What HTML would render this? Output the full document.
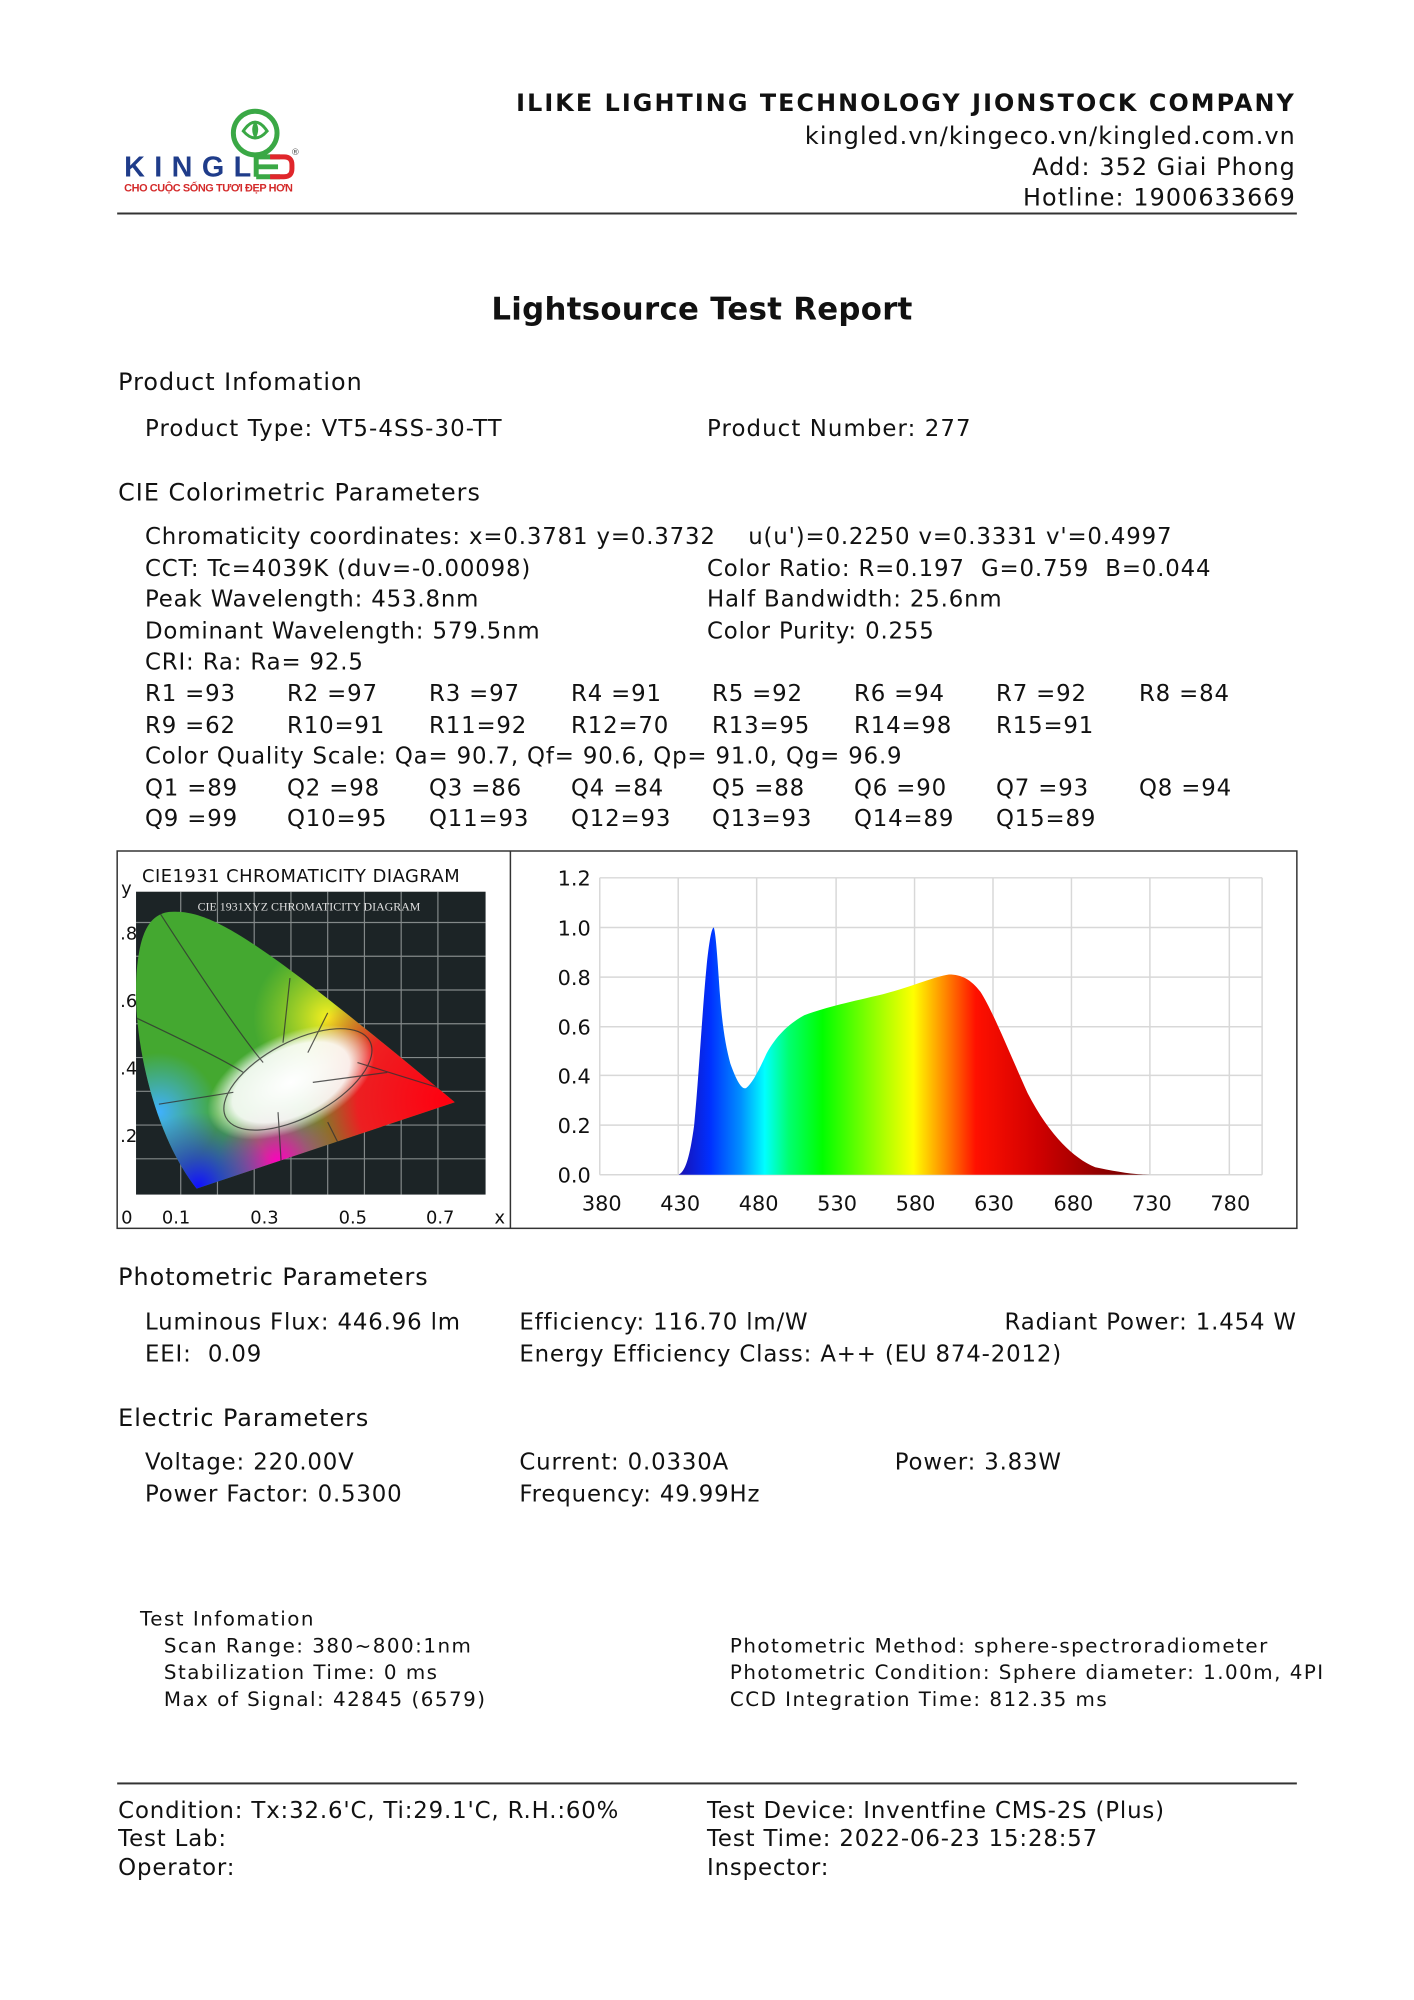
<!DOCTYPE html>
<html><head><meta charset="utf-8"><style>
html,body{margin:0;padding:0;background:#fff}
body{width:1414px;height:2000px;position:relative;overflow:hidden;font-family:"DejaVu Sans","Liberation Sans",sans-serif;color:#111}
#w{position:absolute;left:0;top:0;width:1414px;height:2000px;transform:scale(0.993);transform-origin:0 0}
.t{position:absolute;white-space:pre;font-size:23px;line-height:26px;letter-spacing:0.85px}
.h{font-size:24px;letter-spacing:1px}
.s{font-size:20px;line-height:24px;letter-spacing:1.5px}
.r{text-align:right}
</style></head><body><div id="w">
<!-- logo -->
<svg style="position:absolute;left:0;top:0" width="400" height="220">
<circle cx="257" cy="134" r="22" fill="none" stroke="#3aa845" stroke-width="5"/>
<path d="M245,132 q12,-18 24,0 q-12,14 -24,0z" fill="none" stroke="#3aa845" stroke-width="3"/>
<path d="M257,122 q6,8 0,18 q-6,-10 0,-18z" fill="#3aa845"/>
<text x="125" y="178" font-family="Liberation Sans" font-weight="bold" font-size="29" fill="#1f3c8a" textLength="128">KINGL</text>
<path d="M258,158 h24 M258,168 h22 M258,178 h24 M258,158 v20" stroke="#3aa845" stroke-width="5" fill="none"/>
<path d="M272,158 h14 q8,0 8,8 v4 q0,8 -8,8 h-14" stroke="#e0262b" stroke-width="5" fill="none"/>
<text x="293" y="156" font-size="9" fill="#555">®</text>
<text x="125" y="193" font-family="Liberation Sans" font-weight="bold" font-size="11" fill="#d42a2a" textLength="170">CHO CUỘC SỐNG TƯƠI ĐẸP HƠN</text>
</svg>
<div class="t r" style="right:109px;top:91px;font-weight:bold;font-size:24px;letter-spacing:2.1px">ILIKE LIGHTING TECHNOLOGY JIONSTOCK COMPANY</div>
<div class="t r" style="right:109px;top:124px;font-size:24px;letter-spacing:1.1px">kingled.vn/kingeco.vn/kingled.com.vn</div>
<div class="t r" style="right:109px;top:155px;font-size:24px;letter-spacing:1.1px">Add: 352 Giai Phong</div>
<div class="t r" style="right:109px;top:186px;font-size:24px;letter-spacing:1.1px">Hotline: 1900633669</div>
<div style="position:absolute;left:118px;top:214px;width:1188px;height:2px;background:#333"></div>
<div class="t" style="left:0;width:1414px;text-align:center;top:294px;font-size:31px;line-height:36px;font-weight:bold;letter-spacing:0.3px">Lightsource Test Report</div>

<div class="t h" style="left:119px;top:372px">Product Infomation</div>
<div class="t" style="left:146px;top:419px;letter-spacing:1.1px">Product Type: VT5-4SS-30-TT</div>
<div class="t" style="left:712px;top:419px;letter-spacing:1.1px">Product Number: 277</div>
<div class="t h" style="left:119px;top:483px">CIE Colorimetric Parameters</div>
<div class="t" style="left:146px;top:528px">Chromaticity coordinates: x=0.3781 y=0.3732    u(u')=0.2250 v=0.3331 v'=0.4997</div>
<div class="t" style="left:146px;top:560px">CCT: Tc=4039K (duv=-0.00098)</div>
<div class="t" style="left:712px;top:560px">Color Ratio: R=0.197  G=0.759  B=0.044</div>
<div class="t" style="left:146px;top:591px">Peak Wavelength: 453.8nm</div>
<div class="t" style="left:712px;top:591px">Half Bandwidth: 25.6nm</div>
<div class="t" style="left:146px;top:623px">Dominant Wavelength: 579.5nm</div>
<div class="t" style="left:712px;top:623px">Color Purity: 0.255</div>
<div class="t" style="left:146px;top:654px">CRI: Ra: Ra= 92.5</div>
<div class="t" style="left:146px;top:686px">R1 =93</div><div class="t" style="left:289px;top:686px">R2 =97</div><div class="t" style="left:432px;top:686px">R3 =97</div><div class="t" style="left:575px;top:686px">R4 =91</div><div class="t" style="left:717px;top:686px">R5 =92</div><div class="t" style="left:860px;top:686px">R6 =94</div><div class="t" style="left:1003px;top:686px">R7 =92</div><div class="t" style="left:1147px;top:686px">R8 =84</div>
<div class="t" style="left:146px;top:718px">R9 =62</div><div class="t" style="left:289px;top:718px">R10=91</div><div class="t" style="left:432px;top:718px">R11=92</div><div class="t" style="left:575px;top:718px">R12=70</div><div class="t" style="left:717px;top:718px">R13=95</div><div class="t" style="left:860px;top:718px">R14=98</div><div class="t" style="left:1003px;top:718px">R15=91</div>
<div class="t" style="left:146px;top:749px">Color Quality Scale: Qa= 90.7, Qf= 90.6, Qp= 91.0, Qg= 96.9</div>
<div class="t" style="left:146px;top:781px">Q1 =89</div><div class="t" style="left:289px;top:781px">Q2 =98</div><div class="t" style="left:432px;top:781px">Q3 =86</div><div class="t" style="left:575px;top:781px">Q4 =84</div><div class="t" style="left:717px;top:781px">Q5 =88</div><div class="t" style="left:860px;top:781px">Q6 =90</div><div class="t" style="left:1003px;top:781px">Q7 =93</div><div class="t" style="left:1147px;top:781px">Q8 =94</div>
<div class="t" style="left:146px;top:812px">Q9 =99</div><div class="t" style="left:289px;top:812px">Q10=95</div><div class="t" style="left:432px;top:812px">Q11=93</div><div class="t" style="left:575px;top:812px">Q12=93</div><div class="t" style="left:717px;top:812px">Q13=93</div><div class="t" style="left:860px;top:812px">Q14=89</div><div class="t" style="left:1003px;top:812px">Q15=89</div>

<svg style="position:absolute;left:0;top:0" width="1414" height="1300" font-family="DejaVu Sans, sans-serif">
<defs>
<linearGradient id="sp" gradientUnits="userSpaceOnUse" x1="50" y1="0" x2="355" y2="0">
<stop offset="0" stop-color="#1a10b0"/><stop offset="0.066" stop-color="#0030ff"/><stop offset="0.13" stop-color="#0090ff"/><stop offset="0.18" stop-color="#00ffff"/><stop offset="0.23" stop-color="#00ff70"/><stop offset="0.3" stop-color="#00ff00"/><stop offset="0.43" stop-color="#b0ff00"/><stop offset="0.49" stop-color="#ffff00"/><stop offset="0.56" stop-color="#ff8000"/><stop offset="0.62" stop-color="#ff1000"/><stop offset="0.75" stop-color="#d00000"/><stop offset="0.88" stop-color="#900000"/><stop offset="1" stop-color="#600000"/>
</linearGradient>
<radialGradient id="wh" cx="0.5" cy="0.5" r="0.5"><stop offset="0" stop-color="#fff"/><stop offset="0.7" stop-color="#fff" stop-opacity="0.9"/><stop offset="1" stop-color="#fff" stop-opacity="0"/></radialGradient>
<radialGradient id="rd" gradientUnits="userSpaceOnUse" cx="450" cy="1108" r="150"><stop offset="0" stop-color="#ff0010"/><stop offset="0.6" stop-color="#ff1020" stop-opacity="0.9"/><stop offset="1" stop-color="#ff2020" stop-opacity="0"/></radialGradient>
<radialGradient id="ye" gradientUnits="userSpaceOnUse" cx="330" cy="1025" r="75"><stop offset="0" stop-color="#f8f020"/><stop offset="1" stop-color="#c0e020" stop-opacity="0"/></radialGradient>
<radialGradient id="bl" gradientUnits="userSpaceOnUse" cx="200" cy="1195" r="75"><stop offset="0" stop-color="#1010ff"/><stop offset="1" stop-color="#3030ff" stop-opacity="0"/></radialGradient>
<radialGradient id="mg" gradientUnits="userSpaceOnUse" cx="280" cy="1170" r="60"><stop offset="0" stop-color="#ff00c0"/><stop offset="1" stop-color="#ff00c0" stop-opacity="0"/></radialGradient>
<radialGradient id="cy" gradientUnits="userSpaceOnUse" cx="160" cy="1120" r="60"><stop offset="0" stop-color="#40b0ff"/><stop offset="1" stop-color="#40b0ff" stop-opacity="0"/></radialGradient>
<clipPath id="hs"><path d="M198,1197 C160,1150 135,1060 137,990 C139,940 150,918 175,918 C215,918 260,945 458,1110 Z"/></clipPath>
</defs>
<rect x="118" y="857" width="1188" height="380" fill="none" stroke="#333" stroke-width="1.5"/>
<line x1="514" y1="857" x2="514" y2="1237" stroke="#333" stroke-width="1.5"/>
<!-- CIE -->
<rect x="137" y="898" width="352" height="305" fill="#1c2426"/>
<g stroke="#c8cccc" stroke-width="1.2" opacity="0.6">
<line x1="137" y1="929" x2="489" y2="929"/><line x1="137" y1="963" x2="489" y2="963"/><line x1="137" y1="997" x2="489" y2="997"/><line x1="137" y1="1031" x2="489" y2="1031"/><line x1="137" y1="1065" x2="489" y2="1065"/><line x1="137" y1="1099" x2="489" y2="1099"/><line x1="137" y1="1133" x2="489" y2="1133"/><line x1="137" y1="1167" x2="489" y2="1167"/>
<line x1="182" y1="898" x2="182" y2="1203"/><line x1="219" y1="898" x2="219" y2="1203"/><line x1="256" y1="898" x2="256" y2="1203"/><line x1="293" y1="898" x2="293" y2="1203"/><line x1="330" y1="898" x2="330" y2="1203"/><line x1="367" y1="898" x2="367" y2="1203"/><line x1="404" y1="898" x2="404" y2="1203"/><line x1="441" y1="898" x2="441" y2="1203"/>
</g>
<g clip-path="url(#hs)">
<rect x="137" y="898" width="352" height="305" fill="#44a830"/>
<rect x="137" y="898" width="352" height="305" fill="url(#ye)"/>
<rect x="137" y="898" width="352" height="305" fill="url(#cy)"/>
<rect x="137" y="898" width="352" height="305" fill="url(#rd)"/>
<rect x="137" y="898" width="352" height="305" fill="url(#mg)"/>
<rect x="137" y="898" width="352" height="305" fill="url(#bl)"/>
<ellipse cx="293" cy="1090" rx="90" ry="48" fill="url(#wh)" transform="rotate(-25 293 1090)"/>
<g stroke="#333" stroke-width="1.2" fill="none" opacity="0.8"><ellipse cx="300" cy="1087" rx="82" ry="38" transform="rotate(-28 300 1087)"/><path d="M160,918 C200,980 240,1040 265,1070 M137,1025 C190,1050 230,1070 245,1080 M160,1112 L235,1100 M292,985 L285,1050 M330,1020 L310,1060 M360,1070 L450,1098 M315,1090 L390,1080 M280,1120 L285,1200 M330,1130 L350,1170"/></g>
</g>
<text x="199" y="917" font-family="Liberation Serif" font-size="12" fill="#e0e0e0">CIE 1931XYZ CHROMATICITY DIAGRAM</text>
<text x="143" y="888" font-size="18" fill="#111" letter-spacing="0.5">CIE1931 CHROMATICITY DIAGRAM</text>
<g font-size="18" fill="#111">
<text x="122" y="901">y</text><text x="121" y="946">.8</text><text x="121" y="1014">.6</text><text x="121" y="1082">.4</text><text x="121" y="1150">.2</text>
<text x="122" y="1232">0</text><text x="163" y="1232">0.1</text><text x="252" y="1232">0.3</text><text x="341" y="1232">0.5</text><text x="429" y="1232">0.7</text><text x="498" y="1232">x</text>
</g>
<!-- spectrum -->
<g stroke="#d8d8d8" stroke-width="1.5">
<line x1="604" y1="884" x2="1271" y2="884"/><line x1="604" y1="934" x2="1271" y2="934"/><line x1="604" y1="984" x2="1271" y2="984"/><line x1="604" y1="1034" x2="1271" y2="1034"/><line x1="604" y1="1083" x2="1271" y2="1083"/><line x1="604" y1="1133" x2="1271" y2="1133"/><line x1="604" y1="1183" x2="1271" y2="1183"/>
<line x1="604" y1="884" x2="604" y2="1183"/><line x1="683" y1="884" x2="683" y2="1183"/><line x1="762" y1="884" x2="762" y2="1183"/><line x1="842" y1="884" x2="842" y2="1183"/><line x1="921" y1="884" x2="921" y2="1183"/><line x1="1000" y1="884" x2="1000" y2="1183"/><line x1="1079" y1="884" x2="1079" y2="1183"/><line x1="1158" y1="884" x2="1158" y2="1183"/><line x1="1238" y1="884" x2="1238" y2="1183"/><line x1="1271" y1="884" x2="1271" y2="1183"/>
</g>
<g transform="translate(604,1183) scale(1.584,-249)">
<path fill="url(#sp)" d="M50,0 C54,0.01 57,0.06 60,0.2 C63,0.4 65,0.65 68,0.85 C70,0.97 71.5,1.0 72.5,1.0 C74,0.97 75,0.85 76.5,0.72 C78,0.6 80,0.52 83,0.45 C87,0.38 90,0.345 93,0.35 C97,0.37 101,0.42 106,0.49 C112,0.56 120,0.61 130,0.645 C145,0.68 160,0.70 180,0.73 C198,0.76 212,0.8 222,0.81 C230,0.81 236,0.79 242,0.74 C250,0.66 260,0.5 272,0.33 C285,0.17 300,0.07 315,0.03 C330,0.01 340,0 350,0 Z"/>
</g>
<g font-size="21" fill="#111" text-anchor="end">
<text x="595" y="892">1.2</text><text x="595" y="942">1.0</text><text x="595" y="992">0.8</text><text x="595" y="1042">0.6</text><text x="595" y="1091">0.4</text><text x="595" y="1141">0.2</text><text x="595" y="1191">0.0</text>
</g>
<g font-size="21" fill="#111" text-anchor="middle">
<text x="606" y="1219">380</text><text x="685" y="1219">430</text><text x="764" y="1219">480</text><text x="843" y="1219">530</text><text x="922" y="1219">580</text><text x="1001" y="1219">630</text><text x="1081" y="1219">680</text><text x="1160" y="1219">730</text><text x="1239" y="1219">780</text>
</g>
</svg>

<div class="t h" style="left:119px;top:1273px">Photometric Parameters</div>
<div class="t" style="left:146px;top:1319px">Luminous Flux: 446.96 lm</div>
<div class="t" style="left:523px;top:1319px">Efficiency: 116.70 lm/W</div>
<div class="t r" style="right:108px;top:1319px">Radiant Power: 1.454 W</div>
<div class="t" style="left:146px;top:1351px">EEI:  0.09</div>
<div class="t" style="left:523px;top:1351px">Energy Efficiency Class: A++ (EU 874-2012)</div>
<div class="t h" style="left:119px;top:1415px">Electric Parameters</div>
<div class="t" style="left:146px;top:1460px">Voltage: 220.00V</div>
<div class="t" style="left:523px;top:1460px">Current: 0.0330A</div>
<div class="t" style="left:901px;top:1460px">Power: 3.83W</div>
<div class="t" style="left:146px;top:1492px">Power Factor: 0.5300</div>
<div class="t" style="left:523px;top:1492px">Frequency: 49.99Hz</div>

<div class="t s" style="left:141px;top:1618px">Test Infomation</div>
<div class="t s" style="left:165px;top:1645px">Scan Range: 380~800:1nm</div>
<div class="t s" style="left:165px;top:1672px">Stabilization Time: 0 ms</div>
<div class="t s" style="left:165px;top:1699px">Max of Signal: 42845 (6579)</div>
<div class="t s" style="left:735px;top:1645px">Photometric Method: sphere-spectroradiometer</div>
<div class="t s" style="left:735px;top:1672px">Photometric Condition: Sphere diameter: 1.00m, 4PI</div>
<div class="t s" style="left:735px;top:1699px">CCD Integration Time: 812.35 ms</div>

<div style="position:absolute;left:118px;top:1795px;width:1188px;height:1.5px;background:#333"></div>
<div class="t" style="left:119px;top:1811px">Condition: Tx:32.6'C, Ti:29.1'C, R.H.:60%</div>
<div class="t" style="left:712px;top:1811px">Test Device: Inventfine CMS-2S (Plus)</div>
<div class="t" style="left:119px;top:1839px">Test Lab:</div>
<div class="t" style="left:712px;top:1839px">Test Time: 2022-06-23 15:28:57</div>
<div class="t" style="left:119px;top:1868px">Operator:</div>
<div class="t" style="left:712px;top:1868px">Inspector:</div>
</div></body></html>
